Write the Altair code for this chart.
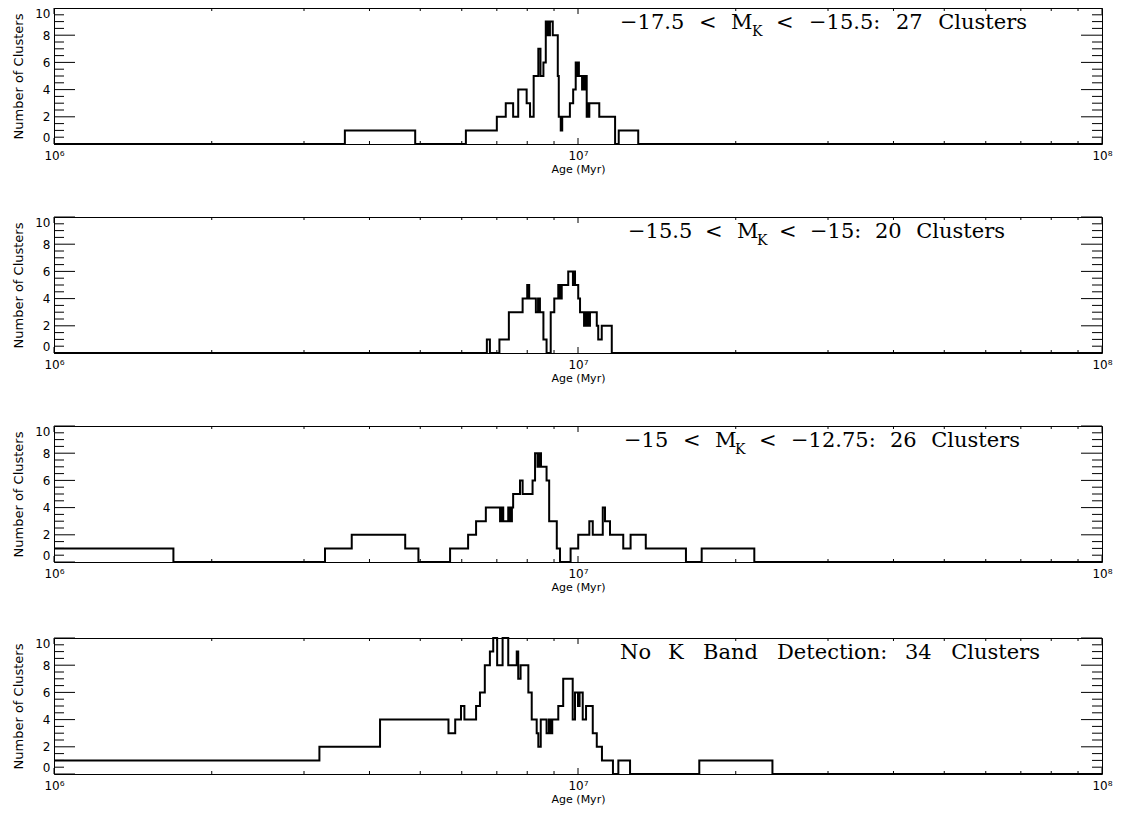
import altair as alt
import pandas as pd

# ---------------- data ----------------
# step edges (age in years) and the count that starts at each edge
p1_edges = [1e6, 3.59e6, 4.89e6, 6.11e6, 7.00e6, 7.28e6, 7.52e6, 7.69e6, 7.98e6, 8.10e6,
            8.23e6, 8.40e6, 8.48e6, 8.59e6, 8.68e6, 8.73e6, 8.76e6, 8.80e6, 8.84e6, 8.95e6,
            9.15e6, 9.19e6, 9.27e6, 9.33e6, 9.65e6, 9.79e6, 9.90e6, 9.96e6, 1.000e7, 1.004e7,
            1.018e7, 1.022e7, 1.027e7, 1.031e7, 1.039e7, 1.043e7, 1.046e7, 1.051e7, 1.098e7, 1.177e7,
            1.196e7, 1.303e7, 1e8]
p1_counts = [0, 1, 0, 1, 2, 3, 2, 4, 3, 2,
             5, 7, 5, 6, 9, 8, 9, 8, 9, 8,
             5, 2, 1, 2, 3, 4, 6, 5, 6, 5,
             4, 5, 4, 5, 2, 3, 2, 3, 2, 0,
             1, 0, 0]

p2_edges = [1e6, 6.70e6, 6.79e6, 7.08e6, 7.38e6, 7.84e6, 8.00e6, 8.07e6, 8.31e6, 8.39e6,
            8.46e6, 8.59e6, 8.71e6, 8.87e6, 9.01e6, 9.17e6, 9.24e6, 9.31e6, 9.58e6, 9.78e6,
            9.83e6, 9.87e6, 1.001e7, 1.009e7, 1.027e7, 1.036e7, 1.045e7, 1.054e7, 1.086e7, 1.093e7,
            1.110e7, 1.160e7, 1e8]
p2_counts = [0, 1, 0, 1, 3, 4, 5, 4, 3, 4,
             3, 1, 0, 3, 4, 5, 4, 5, 6, 5,
             6, 5, 4, 3, 2, 3, 2, 3, 2, 1,
             2, 0, 0]

p3_edges = [1e6, 1.69e6, 3.29e6, 3.70e6, 4.68e6, 4.96e6, 5.70e6, 6.17e6, 6.39e6, 6.67e6,
            7.10e6, 7.16e6, 7.20e6, 7.36e6, 7.42e6, 7.48e6, 7.52e6, 7.75e6, 7.84e6, 8.19e6,
            8.28e6, 8.37e6, 8.43e6, 8.50e6, 8.71e6, 8.81e6, 9.11e6, 9.24e6, 9.68e6, 1.001e7,
            1.051e7, 1.067e7, 1.115e7, 1.126e7, 1.151e7, 1.220e7, 1.260e7, 1.347e7, 1.607e7, 1.722e7,
            2.17e7, 1e8]
p3_counts = [1, 0, 1, 2, 1, 0, 1, 2, 3, 4,
             3, 4, 3, 4, 3, 4, 5, 6, 5, 6,
             8, 7, 8, 7, 6, 3, 1, 0, 1, 2,
             3, 2, 4, 3, 2, 1, 2, 1, 0, 1,
             0, 0]

p4_edges = [1e6, 3.21e6, 4.19e6, 5.66e6, 5.83e6, 5.98e6, 6.07e6, 6.39e6, 6.50e6, 6.64e6,
            6.79e6, 6.89e6, 7.01e6, 7.18e6, 7.36e6, 7.64e6, 7.69e6, 7.77e6, 8.04e6, 8.16e6,
            8.34e6, 8.40e6, 8.49e6, 8.71e6, 8.80e6, 8.86e6, 8.93e6, 9.17e6, 9.37e6, 9.77e6,
            9.87e6, 1.000e7, 1.007e7, 1.021e7, 1.036e7, 1.067e7, 1.086e7, 1.111e7, 1.166e7, 1.194e7,
            1.257e7, 1.704e7, 2.35e7, 1e8]
p4_counts = [1, 2, 4, 3, 4, 5, 4, 5, 6, 8,
             9, 10, 8, 10, 8, 9, 7, 8, 6, 4,
             3, 2, 4, 3, 4, 3, 4, 5, 7, 4,
             6, 5, 6, 4, 5, 3, 2, 1, 0, 1,
             0, 1, 0, 0]

# annotation words (the "K" entries are the subscript of M)
p1_words = ["\u221217.5", "<", "M", "K", "<", "\u221215.5:", "27", "Clusters"]
p2_words = ["\u221215.5", "<", "M", "K", "<", "\u221215:", "20", "Clusters"]
p3_words = ["\u221215", "<", "M", "K", "<", "\u221212.75:", "26", "Clusters"]
p4_words = ["No", "K", "Band", "Detection:", "34", "Clusters"]

# axes
x_domain = [1e6, 1e8]
y_domain = [0, 10]
x_major = [1e6, 1e7, 1e8]
x_tick_labels = ["10\u2076", "10\u2077", "10\u2078"]
x_minor = [2e6, 3e6, 4e6, 5e6, 6e6, 7e6, 8e6, 9e6,
           2e7, 3e7, 4e7, 5e7, 6e7, 7e7, 8e7, 9e7]
y_major = [0, 2, 4, 6, 8, 10]
y_minor = [0.5, 1, 1.5, 2.5, 3, 3.5, 4.5, 5, 5.5, 6.5, 7, 7.5, 8.5, 9, 9.5]

W, H = 1048, 136
X0 = 54  # page x of the plot's left edge (used to place the words)
FONT = "DejaVu Sans"
SERIF = "DejaVu Serif"

xscale = alt.Scale(type="log", domain=x_domain)
yscale = alt.Scale(domain=y_domain, nice=False)

label_expr = ("datum.value < 2e6 ? '%s' : (datum.value < 2e7 ? '%s' : '%s')"
              % tuple(x_tick_labels))

x_axis = alt.Axis(values=x_major, labelExpr=label_expr, title="Age (Myr)",
                  ticks=False, tickSize=0, domain=False, grid=False,
                  labelFlush=False, labelOverlap=False, labelPadding=6,
                  labelFont=FONT, labelFontSize=12, labelColor="black",
                  titleFont=FONT, titleFontSize=11, titleFontWeight="normal",
                  titleColor="black", titlePadding=2)
y_axis = alt.Axis(values=y_major, title="Number of Clusters",
                  ticks=False, tickSize=0, domain=False, grid=False,
                  labelFlush=True, labelPadding=4,
                  labelFont=FONT, labelFontSize=12, labelColor="black",
                  titleFont=FONT, titleFontSize=13, titleFontWeight="normal",
                  titleColor="black", titlePadding=9)


def ticks_y(values, length):
    d = pd.DataFrame({"n": values})
    left = alt.Chart(d).mark_rule(color="black", strokeWidth=1).encode(
        y=alt.Y("n:Q", scale=yscale, axis=y_axis, title="Number of Clusters"),
        x=alt.value(0), x2=alt.value(length))
    right = alt.Chart(d).mark_rule(color="black", strokeWidth=1).encode(
        y=alt.Y("n:Q", scale=yscale, axis=y_axis, title="Number of Clusters"),
        x=alt.value(W - length), x2=alt.value(W))
    return [left, right]


def ticks_x(values, length):
    d = pd.DataFrame({"age": values})
    top = alt.Chart(d).mark_rule(color="black", strokeWidth=1).encode(
        x=alt.X("age:Q", scale=xscale, axis=x_axis, title="Age (Myr)"),
        y=alt.value(0), y2=alt.value(length))
    bottom = alt.Chart(d).mark_rule(color="black", strokeWidth=1).encode(
        x=alt.X("age:Q", scale=xscale, axis=x_axis, title="Age (Myr)"),
        y=alt.value(H - length), y2=alt.value(H))
    return [top, bottom]


def word(s, page_x, y, size, align="left"):
    d = pd.DataFrame({"t": [s]})
    return alt.Chart(d).mark_text(
        align=align, baseline="alphabetic", font=SERIF, fontSize=size, color="black"
    ).encode(text="t:N", x=alt.value(page_x - X0), y=alt.value(y))


def panel(edges, counts, words, xs):
    df = pd.DataFrame({"age": edges, "n": counts})
    line = alt.Chart(df).mark_line(
        interpolate="step-after", color="black", strokeWidth=2, strokeJoin="miter"
    ).encode(
        x=alt.X("age:Q", scale=xscale, axis=x_axis, title="Age (Myr)"),
        y=alt.Y("n:Q", scale=yscale, axis=y_axis, title="Number of Clusters"),
    )
    layers = [line]
    layers += ticks_y(y_major, 21) + ticks_y(y_minor, 10)
    layers += ticks_x(x_major, 6) + ticks_x(x_minor, 3)
    n = len(words)
    for i, (w, px) in enumerate(zip(words, xs)):
        sub = (len(words) == 8 and i == 3)
        last = (i == n - 1)
        layers.append(word(w, px, 28 if sub else 21, 14 if sub else 21,
                           align="right" if last else "left"))
    return alt.layer(*layers).properties(width=W, height=H)


c1 = panel(p1_edges, p1_counts, p1_words,
           (620, 699, 731, 752, 776, 809, 896, 1027))
c2 = panel(p2_edges, p2_counts, p2_words,
           (628, 705, 737, 757, 779, 810, 875, 1005))
c3 = panel(p3_edges, p3_counts, p3_words,
           (624, 683, 715, 735, 759, 791, 890, 1020))
c4 = panel(p4_edges, p4_counts, p4_words,
           (620, 668, 703, 777, 905, 1040))

chart = alt.vconcat(c1, c2, c3, c4, spacing=40).properties(
    padding={"top": -2, "left": 4, "right": 0, "bottom": 0},
    background="white",
).configure_view(stroke="black", strokeWidth=1)

chart.save("out.html", embed_options={"renderer": "svg", "actions": False})
